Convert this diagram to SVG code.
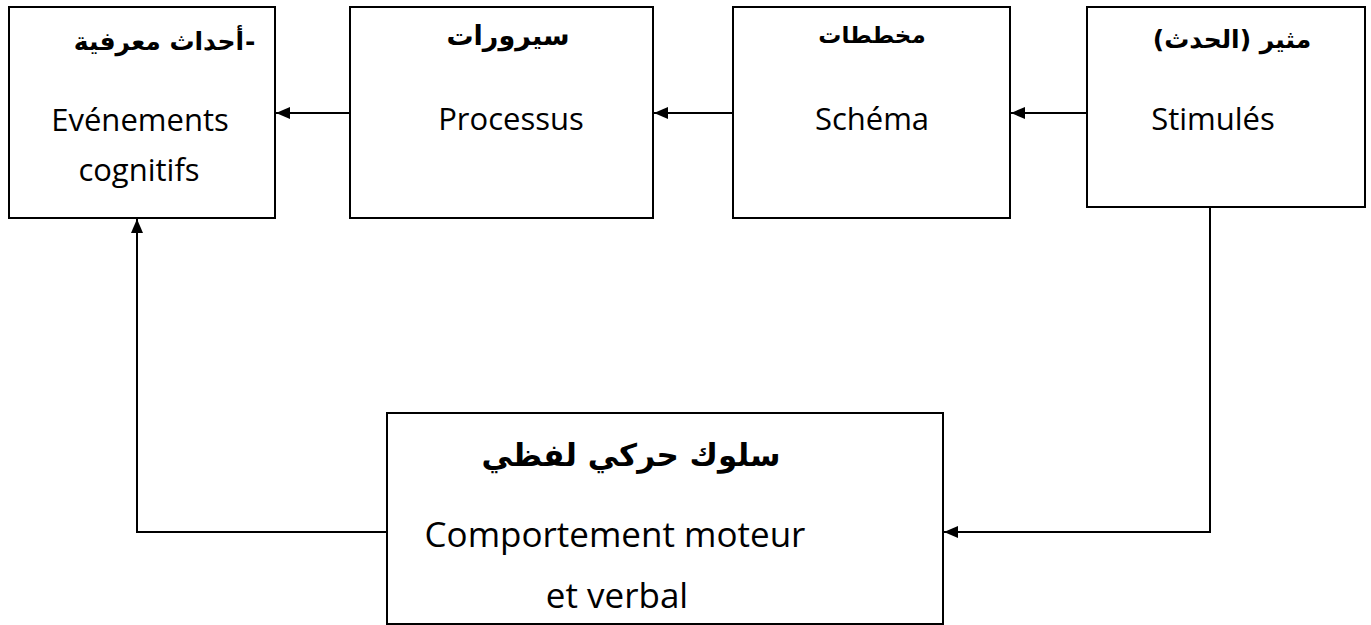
<svg xmlns="http://www.w3.org/2000/svg" width="1371" height="625" viewBox="0 0 1371 625">
<defs>
<style>
.box{fill:#fff;stroke:#000;stroke-width:2}
.ar{font-family:"DejaVu Sans",sans-serif;font-weight:bold;font-size:25px;text-anchor:middle;fill:#000}
.fr{font-family:"Open Sans",sans-serif;font-size:31px;text-anchor:middle;fill:#000}
.frb{font-family:"Open Sans",sans-serif;font-size:35px;text-anchor:middle;fill:#000}
.ln{fill:none;stroke:#000;stroke-width:2}
</style>
<marker id="arr" viewBox="0 0 14 12" refX="14" refY="6" markerWidth="14" markerHeight="12" markerUnits="userSpaceOnUse" orient="auto">
<path d="M0,0 L14,6 L0,12 Z" fill="#000"/>
</marker>
</defs>
<rect width="1371" height="625" fill="#fff"/>
<g id="connectors">
<line class="ln" x1="350" y1="113" x2="276" y2="113" marker-end="url(#arr)"/>
<line class="ln" x1="733" y1="113" x2="654" y2="113" marker-end="url(#arr)"/>
<line class="ln" x1="1087" y1="113" x2="1011" y2="113" marker-end="url(#arr)"/>
<polyline class="ln" points="1210,207 1210,532 944,532" marker-end="url(#arr)"/>
<polyline class="ln" points="387,532 137,532 137,219" marker-end="url(#arr)"/>
</g>
<g id="node-evenements">
<rect class="box" x="9" y="7" width="266" height="211"/>
<text class="ar" x="159" y="50" direction="rtl">أحداث معرفية</text>
<text class="ar" x="245" y="50" style="text-anchor:start">-</text>
<text class="fr" x="140" y="131">Evénements</text>
<text class="fr" x="139" y="181">cognitifs</text>
</g>
<g id="node-processus">
<rect class="box" x="350" y="7" width="303" height="211"/>
<text class="ar" x="508" y="45" direction="rtl" style="font-size:27px">سيرورات</text>
<text class="fr" x="511" y="130">Processus</text>
</g>
<g id="node-schema">
<rect class="box" x="733" y="7" width="277" height="211"/>
<text class="ar" x="872" y="43" direction="rtl" style="font-size:23px">مخططات</text>
<text class="fr" x="872" y="130">Schéma</text>
</g>
<g id="node-stimules">
<rect class="box" x="1087" y="7" width="278" height="200"/>
<text class="ar" x="1232" y="48" direction="rtl">مثير (الحدث)</text>
<text class="fr" x="1213" y="130">Stimulés</text>
</g>
<g id="node-comportement">
<rect class="box" x="387" y="413" width="556" height="211"/>
<text class="ar" x="631" y="466" direction="rtl" style="font-size:31px">سلوك حركي لفظي</text>
<text class="frb" x="615" y="547">Comportement moteur</text>
<text class="frb" x="617" y="608">et verbal</text>
</g>
</svg>
